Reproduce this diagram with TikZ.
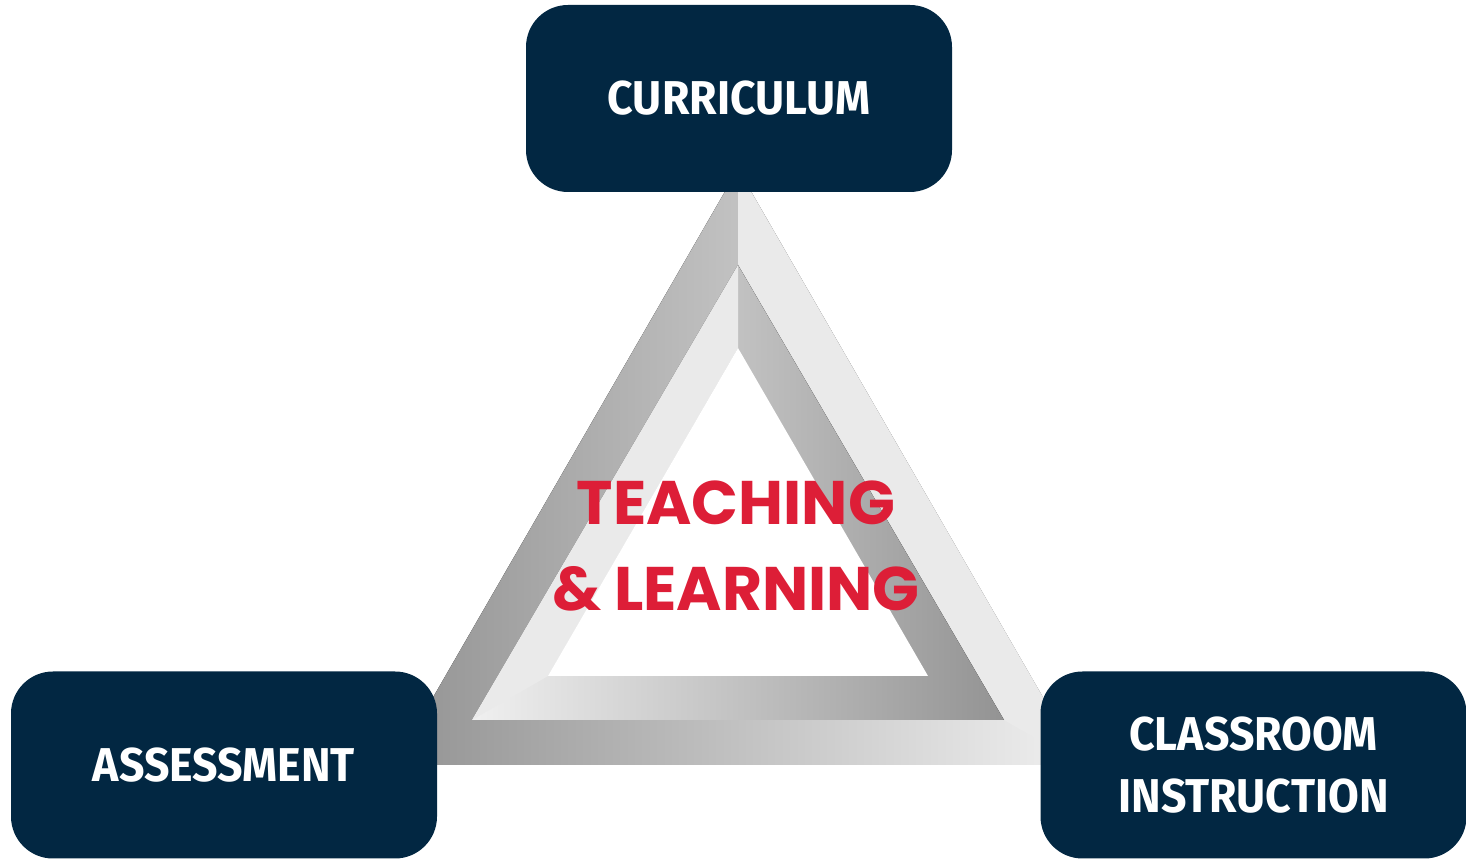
\documentclass[tikz,border=0pt]{standalone}
\usepackage{fontspec}
\newfontfamily\pillarfont[FakeStretch=0.94]{Fira Sans}
\newfontfamily\centrefont{Poppins}
\definecolor{navy}{RGB}{2,39,66}
\definecolor{tlred}{RGB}{221,30,55}
\definecolor{bandDark}{RGB}{147,147,147}
\definecolor{outerMid}{RGB}{216,216,216}
\definecolor{innerMid}{RGB}{220,220,220}
\definecolor{bandLight}{RGB}{240,240,240}
\definecolor{bandFlat}{RGB}{234,234,234}

\begin{document}
\begin{tikzpicture}[
    pillar/.style={fill=navy, rounded corners=0.42cm, minimum width=4.26cm,
        minimum height=1.87cm, inner sep=0pt, text=white, align=center,
        font=\pillarfont\bfseries\fontsize{13.5}{17.6}\selectfont},
    centretext/.style={text=tlred, align=center, inner sep=0pt,
        font=\centrefont\bfseries\fontsize{17.5}{24.2}\selectfont}
]
    \useasboundingbox (0,0) rectangle (14.66,8.60);

    % Outer ring, shaded dark to light
    \fill[left color=bandDark, middle color=outerMid, right color=bandLight]
        (7.38,6.91) -- (3.94,0.95) -- (10.82,0.95) -- cycle;
    % Outer ring, flat right side
    \fill[bandFlat] (7.38,6.91) -- (10.82,0.95) -- (10.04,1.40) -- (7.38,5.95) -- cycle;

    % Inner ring, shaded light to dark
    \fill[left color=bandLight, middle color=innerMid, right color=bandDark]
        (7.38,5.95) -- (4.72,1.40) -- (10.04,1.40) -- cycle;
    % Inner ring, flat left side
    \fill[bandFlat] (7.38,5.95) -- (4.72,1.40) -- (5.48,1.84) -- (7.38,5.12) -- cycle;

    % Hollow centre
    \fill[white] (7.38,5.12) -- (5.48,1.84) -- (9.28,1.84) -- cycle;

    % Centre label
    \node[centretext] (teaching) at (7.36,3.14) {TEACHING\\\& LEARNING};

    % The three pillars
    \node[pillar] (curriculum) at (7.39,7.615) {CURRICULUM};
    \node[pillar] (assessment) at (2.24,0.95) {ASSESSMENT};
    \node[pillar] (classroom) at (12.535,0.95) {CLASSROOM\\INSTRUCTION};
\end{tikzpicture}
\end{document}
